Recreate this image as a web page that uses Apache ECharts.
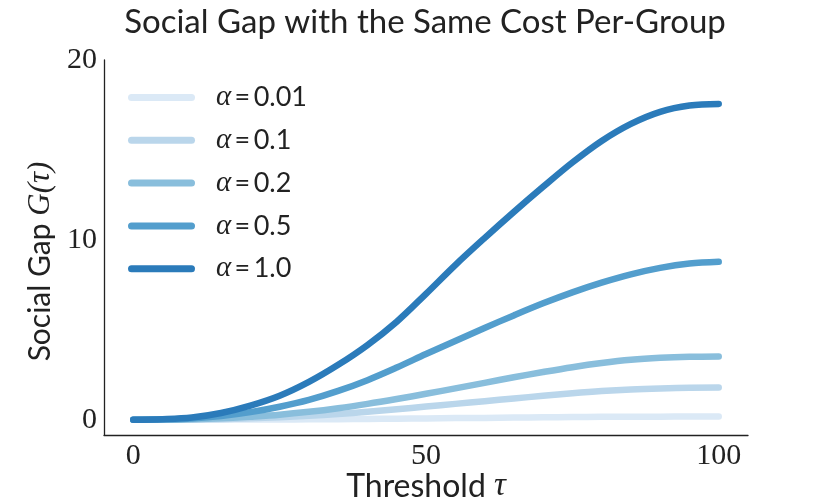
<!DOCTYPE html>
<html>
<head>
<meta charset="utf-8">
<script src="https://cdn.jsdelivr.net/npm/echarts@6/dist/echarts.min.js"></script>
<style>
  html, body { margin: 0; padding: 0; background: #fff; }
  #chart { width: 830px; height: 498px; }
</style>
</head>
<body>
<div id="chart"></div>
<script>
// threshold tau
const taus = [0, 5, 10, 15, 20, 25, 30, 35, 40, 45, 50, 55, 60, 65, 70, 75, 80, 85, 90, 95, 100];

// social gap per alpha
const gap001 = [0, 0, 0, 0, 0.01, 0.01, 0.02, 0.03, 0.04, 0.06, 0.07, 0.09, 0.1, 0.12, 0.13, 0.15, 0.16, 0.17, 0.17, 0.18, 0.18];
const gap01 = [0, 0.005, 0.015, 0.04, 0.08, 0.14, 0.22, 0.32, 0.44, 0.58, 0.73, 0.88, 1.03, 1.18, 1.33, 1.47, 1.59, 1.68, 1.74, 1.78, 1.79];
const gap02 = [0, 0.01, 0.03, 0.08, 0.17, 0.28, 0.44, 0.64, 0.88, 1.15, 1.44, 1.74, 2.05, 2.36, 2.65, 2.92, 3.15, 3.33, 3.44, 3.5, 3.52];
const gap05 = [0, 0.02, 0.07, 0.2, 0.42, 0.72, 1.1, 1.6, 2.2, 2.9, 3.65, 4.38, 5.1, 5.8, 6.47, 7.08, 7.62, 8.08, 8.44, 8.68, 8.78];
const gap10 = [0, 0.03, 0.12, 0.37, 0.78, 1.33, 2.1, 3.05, 4.15, 5.45, 7.0, 8.6, 10.1, 11.55, 12.95, 14.3, 15.5, 16.45, 17.12, 17.47, 17.56];

const alphas = ["0.01", "0.1", "0.2", "0.5", "1.0"];
const gaps = [gap001, gap01, gap02, gap05, gap10];
const colors = ["#dbe9f6", "#bad6eb", "#89bedc", "#539ecd", "#2b7bba"];

const xTicks = [0, 50, 100];
const yTicks = [0, 10, 20];

const sans = "Lato";
const serif = "Liberation Serif";

const chart = echarts.init(document.getElementById("chart"));

const series = alphas.map((a, i) => ({
  name: "α=" + a,
  type: "line",
  data: taus.map((t, j) => [t, gaps[i][j]]),
  smooth: 0.35,
  showSymbol: false,
  symbol: "none",
  lineStyle: { color: colors[i], width: 6.5, cap: "round", join: "round" },
  itemStyle: { color: colors[i] },
  z: 2 + i,
}));

chart.setOption({
  animation: false,
  title: {
    text: "Social Gap with the Same Cost Per-Group",
    left: 420,
    top: 1,
    textAlign: "center",
    textStyle: { fontFamily: sans, fontSize: 33, fontWeight: "normal", color: "#222" },
  },
  grid: { left: 104, right: 82, top: 60, bottom: 63, outerBoundsMode: "none" },
  legend: {
    left: 128,
    top: 83,
    padding: 0,
    orient: "vertical",
    itemWidth: 67,
    itemHeight: 7,
    itemGap: 13.8,
    icon: "path://M3.5,0 L63.5,0 A3.5,3.5 0 0 1 63.5,7 L3.5,7 A3.5,3.5 0 0 1 3.5,0 Z",
    data: series.map((s) => s.name),
    formatter: (name) => "{a|α}{b|\u2009=\u2009" + name.slice(2) + "}",
    textStyle: {
      padding: [0, 0, 0, 16],
      rich: {
        a: { fontFamily: serif, fontStyle: "italic", fontSize: 29, color: "#222", lineHeight: 30 },
        b: { fontFamily: sans, fontSize: 27, color: "#222", lineHeight: 30 },
      },
    },
  },
  xAxis: {
    type: "value",
    min: -5,
    max: 105,
    name: "{s|Threshold }{t|τ}",
    nameLocation: "middle",
    nameGap: 35,
    nameMoveOverlap: false,
    nameTextStyle: {
      rich: {
        s: { fontFamily: sans, fontSize: 32, color: "#222" },
        t: { fontFamily: serif, fontStyle: "italic", fontSize: 33, color: "#222" },
      },
    },
    axisLine: { onZero: false, lineStyle: { color: "#222", width: 1.3 } },
    axisTick: { show: false },
    splitLine: { show: false },
    axisLabel: {
      customValues: xTicks,
      margin: 6,
      fontFamily: serif,
      fontSize: 30,
      color: "#222",
    },
  },
  yAxis: {
    type: "value",
    min: -0.85,
    max: 20,
    name: "{s|Social Gap }{g|G}{t|(τ)}",
    nameLocation: "middle",
    nameRotate: 90,
    nameGap: 48,
    nameMoveOverlap: false,
    nameTextStyle: {
      padding: [0, 28, 0, 0],
      rich: {
        s: { fontFamily: sans, fontSize: 30, color: "#222" },
        g: { fontFamily: serif, fontStyle: "italic", fontSize: 31, color: "#222" },
        t: { fontFamily: serif, fontStyle: "italic", fontSize: 31, color: "#222" },
      },
    },
    axisLine: { show: true, onZero: false, lineStyle: { color: "#222", width: 1.3 } },
    axisTick: { show: false },
    splitLine: { show: false },
    axisLabel: {
      customValues: yTicks,
      margin: 7,
      fontFamily: serif,
      fontSize: 30,
      color: "#222",
    },
  },
  series: series,
});

window.addEventListener("resize", () => {
  chart.resize();
});
</script>
</body>
</html>
